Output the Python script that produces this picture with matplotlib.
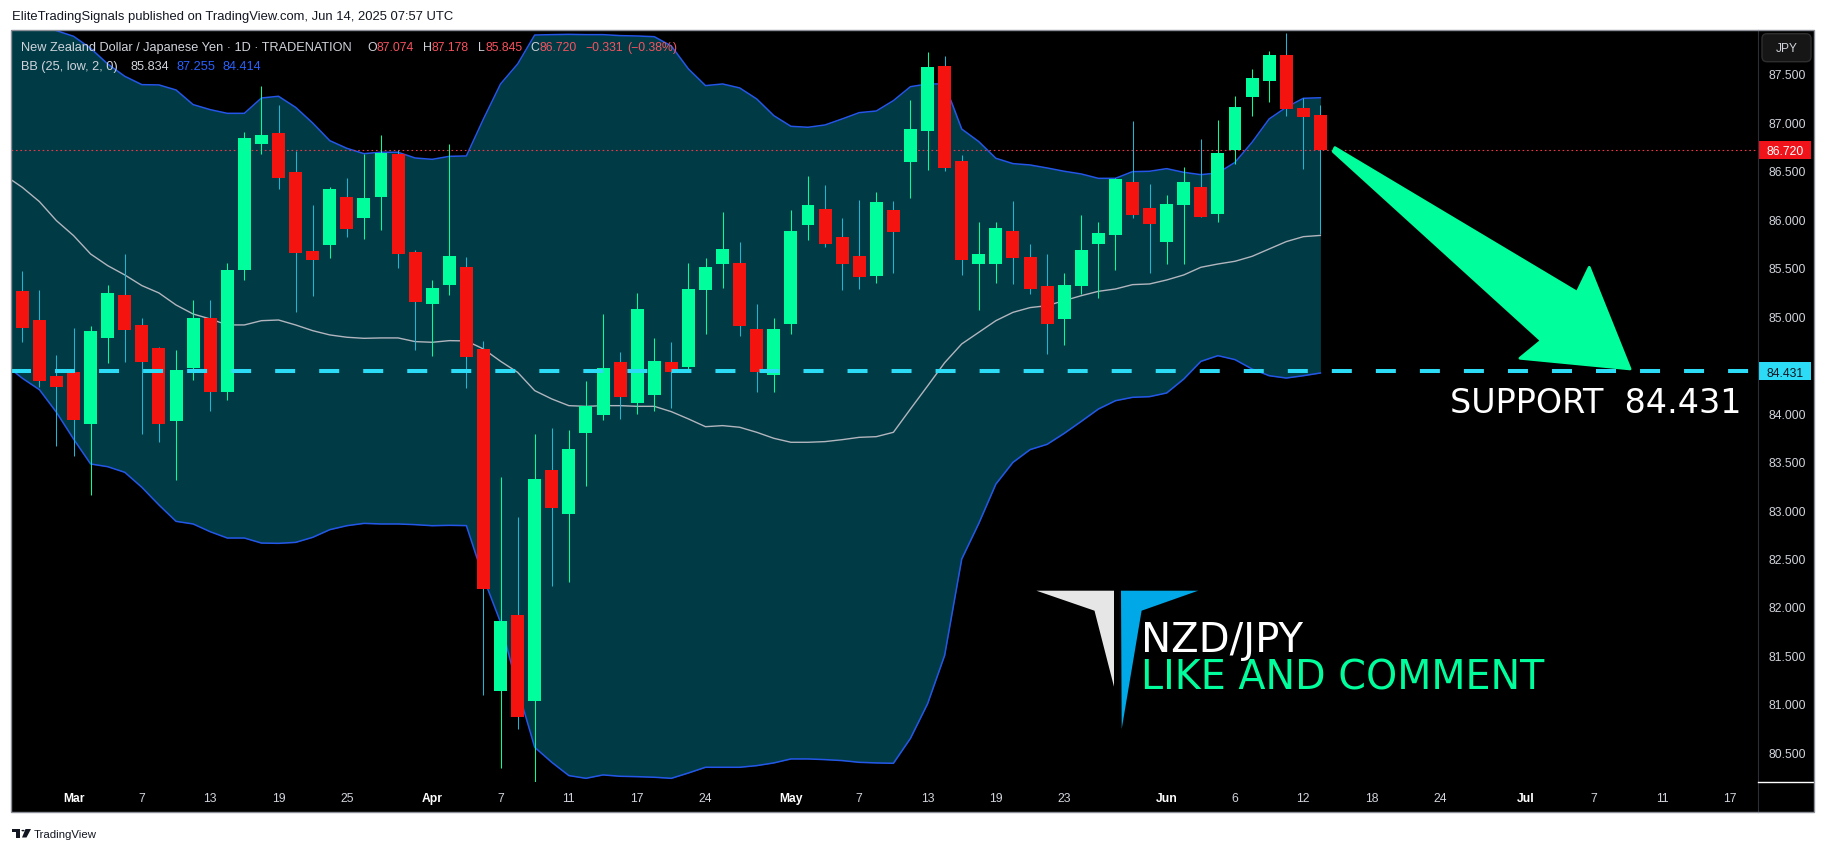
import matplotlib
matplotlib.use('Agg')
import matplotlib.pyplot as plt
from matplotlib.patches import Rectangle, Polygon, FancyBboxPatch, Circle
from matplotlib.lines import Line2D
import numpy as np

plt.rcParams['font.family'] = ['Liberation Sans', 'DejaVu Sans']
plt.rcParams['lines.scale_dashes'] = False

W, H, DPI = 1826, 853, 100

# NZD/JPY daily bars, Feb 26 -> Jun 13 2025 (broker skips Apr 18)
opens = [85.261, 84.961, 84.383, 84.425, 83.888, 84.776, 85.219, 84.910, 84.672, 83.923,
         84.466, 84.982, 84.222, 85.481, 86.778, 86.891, 86.489, 85.673, 85.739, 86.231,
         86.014, 86.234, 86.678, 85.663, 85.130, 85.326, 85.508, 84.662, 81.136, 81.917,
         81.033, 83.413, 82.963, 83.799, 83.981, 84.528, 84.108, 84.191, 84.528, 84.480,
         85.274, 85.539, 85.550, 84.868, 84.397, 84.924, 85.945, 86.107, 85.818, 85.622,
         85.419, 86.097, 86.595, 86.915, 87.583, 86.602, 85.543, 85.543, 85.880, 85.611,
         85.312, 84.975, 85.316, 85.749, 85.842, 86.385, 86.117, 85.770, 86.152, 86.334,
         86.059, 86.719, 87.266, 87.431, 87.696, 87.146, 87.074]
highs = [85.464, 85.271, 84.600, 84.875, 84.899, 85.323, 85.643, 84.982, 84.680, 84.652,
         85.168, 85.168, 85.546, 86.898, 87.373, 87.180, 86.705, 86.148, 86.337, 86.427,
         86.674, 86.871, 86.716, 85.684, 85.374, 86.774, 85.611, 84.745, 83.341, 82.928,
         83.785, 83.847, 83.826, 84.335, 85.023, 84.631, 85.240, 84.776, 84.738, 85.550,
         85.601, 86.076, 85.766, 85.126, 84.982, 86.097, 86.447, 86.355, 86.014, 86.200,
         86.282, 86.189, 87.232, 87.727, 87.686, 86.664, 85.976, 85.973, 86.189, 85.746,
         85.643, 85.446, 86.045, 85.973, 86.427, 87.015, 86.365, 86.251, 86.540, 86.829,
         87.025, 87.273, 87.552, 87.737, 87.923, 87.252, 87.178]
lows = [84.738, 84.266, 83.664, 83.561, 83.158, 84.518, 84.531, 83.785, 83.698, 83.313,
        84.346, 84.026, 84.139, 85.378, 86.674, 86.313, 85.047, 85.213, 85.601, 85.821,
        85.801, 85.894, 85.501, 84.655, 84.593, 85.223, 84.263, 81.095, 80.334, 80.744,
        80.190, 82.220, 82.261, 83.252, 83.929, 83.940, 83.995, 84.026, 84.057, 84.439,
        84.820, 85.295, 84.800, 84.222, 84.222, 84.820, 85.790, 85.715, 85.271, 85.281,
        85.347, 85.450, 86.220, 86.509, 86.502, 85.429, 85.068, 85.347, 85.336, 85.230,
        84.614, 84.707, 85.230, 85.192, 85.481, 86.017, 85.450, 85.543, 85.543, 86.020,
        85.976, 86.575, 87.070, 87.215, 87.067, 86.523, 85.845]
closes = [84.882, 84.335, 84.273, 83.929, 84.848, 85.240, 84.862, 84.531, 83.888, 84.445,
          84.982, 84.222, 85.477, 86.840, 86.871, 86.427, 85.653, 85.584, 86.313, 85.904,
          86.220, 86.688, 85.646, 85.151, 85.292, 85.622, 84.583, 82.188, 81.855, 80.868,
          83.320, 83.025, 83.630, 84.074, 84.466, 84.170, 85.075, 84.538, 84.421, 85.281,
          85.508, 85.694, 84.903, 84.428, 84.868, 85.880, 86.148, 85.746, 85.539, 85.408,
          86.179, 85.873, 86.932, 87.572, 86.533, 85.584, 85.643, 85.911, 85.605, 85.285,
          84.924, 85.323, 85.684, 85.859, 86.416, 86.048, 85.955, 86.158, 86.385, 86.028,
          86.685, 87.159, 87.459, 87.696, 87.142, 87.051, 86.720]

# BB (25, low, 2, 0); first value belongs to Feb 25 (off screen)
bb_upper = [88.35, 88.20, 88.06, 87.947, 87.889, 87.765, 87.603, 87.476, 87.390, 87.387,
            87.335, 87.184, 87.132, 87.094, 87.094, 87.252, 87.270, 87.156, 86.994, 86.812,
            86.733, 86.678, 86.692, 86.692, 86.633, 86.619, 86.650, 86.654, 87.036, 87.397,
            87.603, 87.902, 87.906, 87.909, 87.906, 87.906, 87.896, 87.892, 87.885, 87.789,
            87.552, 87.380, 87.397, 87.356, 87.242, 87.070, 86.960, 86.950, 86.974, 87.036,
            87.101, 87.118, 87.225, 87.369, 87.397, 87.397, 86.932, 86.802, 86.630, 86.575,
            86.561, 86.530, 86.496, 86.468, 86.423, 86.423, 86.492, 86.496, 86.523, 86.485,
            86.461, 86.478, 86.588, 86.795, 87.036, 87.156, 87.249, 87.255]
bb_basis = [86.45, 86.330, 86.183, 85.986, 85.832, 85.642, 85.522, 85.426, 85.316, 85.240,
            85.116, 85.023, 84.972, 84.910, 84.910, 84.954, 84.961, 84.910, 84.851, 84.807,
            84.783, 84.772, 84.776, 84.776, 84.738, 84.731, 84.748, 84.745, 84.662, 84.535,
            84.421, 84.232, 84.146, 84.077, 84.070, 84.077, 84.077, 84.070, 84.070, 84.015,
            83.940, 83.860, 83.871, 83.854, 83.802, 83.740, 83.699, 83.699, 83.706, 83.726,
            83.750, 83.757, 83.802, 84.043, 84.280, 84.520, 84.714, 84.834, 84.954, 85.040,
            85.089, 85.109, 85.161, 85.212, 85.257, 85.281, 85.326, 85.333, 85.374, 85.426,
            85.505, 85.539, 85.567, 85.618, 85.694, 85.770, 85.821, 85.834]
bb_lower = [84.50, 84.36, 84.242, 84.008, 83.733, 83.475, 83.447, 83.389, 83.234, 83.052,
            82.883, 82.856, 82.776, 82.711, 82.711, 82.659, 82.656, 82.666, 82.718, 82.797,
            82.838, 82.862, 82.856, 82.856, 82.849, 82.838, 82.842, 82.839, 82.300, 81.841,
            81.153, 80.551, 80.396, 80.259, 80.231, 80.266, 80.252, 80.248, 80.242, 80.231,
            80.286, 80.345, 80.345, 80.345, 80.362, 80.390, 80.431, 80.431, 80.424, 80.414,
            80.396, 80.390, 80.386, 80.644, 81.000, 81.500, 82.494, 82.862, 83.268, 83.492,
            83.623, 83.678, 83.791, 83.915, 84.042, 84.128, 84.163, 84.170, 84.208, 84.352,
            84.534, 84.593, 84.552, 84.455, 84.386, 84.362, 84.386, 84.414]

support = 84.431

# bar index of each time-axis label (future bars continue Mon-Fri)
date_ticks = [3, 7, 11, 15, 19, 24, 28, 32, 36, 40, 45, 49, 53, 57, 61, 67, 71, 75,
              79, 83, 88, 92, 96, 100]
date_labels = ['Mar', '7', '13', '19', '25', 'Apr', '7', '11', '17', '24', 'May', '7',
               '13', '19', '23', 'Jun', '6', '12', '18', '24', 'Jul', '7', '11', '17']
months = ['Mar', 'Apr', 'May', 'Jun', 'Jul']

# 84.500 sits under the support price tag, so it gets no label
price_ticks = [80.5, 81.0, 81.5, 82.0, 82.5, 83.0, 83.5, 84.0, 85.0, 85.5, 86.0,
               86.5, 87.0, 87.5]

# hand drawn arrow on the chart (bar index, price)
arrow_pts = [(76.85, 86.74), (91.03, 85.247), (91.74, 85.505), (94.13, 84.456),
             (87.68, 84.566), (88.94, 84.748), (76.75, 86.70)]

GREEN = '#00FF9C'
RED = '#F5130F'
WICK_DN = '#1FB5D3'
FILL = '#003B45'
BAND = '#2457E8'
BASIS = '#B2B5BE'
CYAN = '#2CDBF5'
TXT = '#D1D4DC'


def fx(px):
    return px / W


def fy(py):
    return 1 - py / H


fig = plt.figure(figsize=(W / DPI, H / DPI), dpi=DPI, facecolor='white')

# chart widget background
fig.add_artist(Rectangle((fx(11), fy(813)), (1814 - 11) / W, (813 - 30.7) / H,
                         transform=fig.transFigure, fc='black', ec='none', zorder=-1))

ax = fig.add_axes([fx(11), fy(783), (1758 - 11) / W, (783 - 30.7) / H])
ax.set_facecolor('black')
ax.set_xlim(-0.662, 101.62)
ax.set_ylim(80.193, 87.957)
for s in ax.spines.values():
    s.set_visible(False)

o = np.array(opens)
h = np.array(highs)
l = np.array(lows)
c = np.array(closes)
x = np.arange(len(o))
up = c >= o

# bollinger bands
bx = np.arange(-1, len(o))
ax.fill_between(bx, bb_lower, bb_upper, color=FILL, lw=0, zorder=1)
ax.plot(bx, bb_upper, color=BAND, lw=1.1, zorder=2)
ax.plot(bx, bb_lower, color=BAND, lw=1.1, zorder=2)
ax.plot(bx, bb_basis, color=BASIS, lw=1.0, zorder=2)

# last price line
ax.axhline(c[-1], color='#F23645', lw=0.8, ls=(0, (1.2, 2.0)), zorder=2.5)

# candles
ax.vlines(x, l, h, colors=[GREEN if u else WICK_DN for u in up], lw=0.75, zorder=3)
ax.bar(x, np.maximum(np.abs(c - o), 0.012), bottom=np.minimum(o, c), width=0.76,
       color=[GREEN if u else RED for u in up], lw=0, zorder=4)

# support line + label
ax.axhline(support, color=CYAN, lw=2.9, dashes=(14.4, 17.3), zorder=5)
ax.text(100.63, 84.015, 'SUPPORT  %.3f' % support, ha='right', va='baseline',
        color='white', fontsize=24, family='DejaVu Sans', zorder=6)

ax.add_patch(Polygon(arrow_pts, closed=True, fc=GREEN, ec=GREEN, lw=2,
                     joinstyle='round', zorder=6))

# axes ticks
ax.yaxis.tick_right()
ax.set_yticks(price_ticks)
ax.set_yticklabels(['%.3f' % p for p in price_ticks])
ax.tick_params(axis='y', length=0, pad=7.2, labelsize=8.7, labelcolor=TXT)
ax.set_xticks(date_ticks)
ax.set_xticklabels(date_labels)
ax.tick_params(axis='x', length=0, pad=7.5, labelsize=8.7, labelcolor=TXT)
for t in ax.get_xticklabels():
    if t.get_text() in months:
        t.set_fontweight('bold')
        t.set_color('white')

# price tags on the scale
ytr = ax.get_yaxis_transform()
x0 = (1759 - 11) / 1747
x1 = (1811 - 11) / 1747
for price, bg, fg in [(c[-1], '#F0141A', 'white'), (support, CYAN, '#131722')]:
    ax.add_patch(Rectangle((x0, price - 0.093), x1 - x0, 0.186, transform=ytr,
                           fc=bg, ec='none', clip_on=False, zorder=10))
    ax.text((x0 + x1) / 2, price, '%.3f' % price, transform=ytr, ha='center',
            va='center_baseline', fontsize=8.7, color=fg, clip_on=False, zorder=11)

# separators / border
fig.add_artist(Line2D([fx(1758), fx(1758)], [fy(30.7), fy(813)], color='#2A2E39', lw=0.8))
fig.add_artist(Line2D([fx(1758), fx(1814)], [fy(783), fy(783)], color='white', lw=1))
fig.add_artist(Rectangle((fx(11), fy(813)), (1814 - 11) / W, (813 - 30.7) / H,
                         transform=fig.transFigure, fill=False, ec='#8C8F98', lw=1, zorder=20))

# JPY button
fig.add_artist(FancyBboxPatch((1762 / DPI, (H - 62.7) / DPI), 49 / DPI, 28 / DPI,
                              boxstyle='round,pad=0,rounding_size=0.05',
                              transform=fig.dpi_scale_trans, fc='#161616', ec='#2E2E2E',
                              lw=1, zorder=8))
fig.text(fx(1786.5), fy(48.5), 'JPY', ha='center', va='center', fontsize=8.6,
         color=TXT, zorder=9)

# header / legend
fig.text(fx(12), fy(20), 'EliteTradingSignals published on TradingView.com, Jun 14, 2025 07:57 UTC',
         fontsize=9.4, color='#131722', va='baseline')

chg = c[-1] - c[-2]
pct = chg / c[-2] * 100
leg1 = [(20.7, 'New Zealand Dollar / Japanese Yen \u00b7 1D \u00b7 TRADENATION', TXT),
        (367, 'O', TXT), (376.5, '%.3f' % o[-1], '#F7525F'),
        (423.3, 'H', TXT), (431.7, '%.3f' % h[-1], '#F7525F'),
        (478.3, 'L', TXT), (485, '%.3f' % l[-1], '#F7525F'),
        (530.7, 'C', TXT), (539, '%.3f' % c[-1], '#F7525F'),
        (585, '\u2212%.3f' % abs(chg), '#F7525F'),
        (627.3, '(\u2212%.2f%%)' % abs(pct), '#F7525F')]
for px, s, col in leg1:
    fs = 9.2 if len(s) > 8 else 8.8
    fig.text(fx(px), fy(51), s, fontsize=fs, color=col, va='baseline', zorder=9)

leg2 = [(20.7, 'BB (25, low, 2, 0)', TXT), (130.7, '%.3f' % bb_basis[-1], TXT),
        (176.7, '%.3f' % bb_upper[-1], '#2962FF'), (222.3, '%.3f' % bb_lower[-1], '#2962FF')]
for px, s, col in leg2:
    fig.text(fx(px), fy(70), s, fontsize=9.2, color=col, va='baseline', zorder=9)

# NZD/JPY watermark logo
grey_tri = [(1036.4, 591.7), (1114, 591.7), (1114, 687.7), (1094.5, 611.7)]
blue_tri = [(1121, 591.7), (1198.2, 591.7), (1141.6, 611.7), (1121.7, 730)]
for pts, col in [(grey_tri, '#E6E6E6'), (blue_tri, '#00A8E8')]:
    fig.add_artist(Polygon([(fx(a), fy(b)) for a, b in pts], closed=True,
                           transform=fig.transFigure, fc=col, ec='none', zorder=9))
fig.text(fx(1141), fy(651.7), 'NZD/JPY', fontsize=29, color='white',
         family='DejaVu Sans', va='baseline', zorder=9)
fig.text(fx(1141), fy(689.3), 'LIKE AND COMMENT', fontsize=28.5, color=GREEN,
         family='DejaVu Sans', va='baseline', zorder=9)

# TradingView footer
dark = '#131722'
fig.add_artist(Rectangle((fx(12), fy(833)), 8 / W, 3 / H, transform=fig.transFigure, fc=dark, ec='none'))
fig.add_artist(Rectangle((fx(16), fy(838.5)), 4 / W, 8.5 / H, transform=fig.transFigure, fc=dark, ec='none'))
fig.add_artist(Circle((fx(23), fy(831.6)), 1.6 / W, transform=fig.transFigure, fc=dark, ec='none'))
fig.add_artist(Polygon([(fx(25.5), fy(830)), (fx(31), fy(830)), (fx(26.5), fy(838.5)),
                        (fx(22), fy(838.5))], closed=True, transform=fig.transFigure,
                       fc=dark, ec='none'))
fig.text(fx(34), fy(838), 'TradingView', fontsize=8.2, color=dark, va='baseline')

fig.savefig('out.png', dpi=DPI, facecolor='white')
